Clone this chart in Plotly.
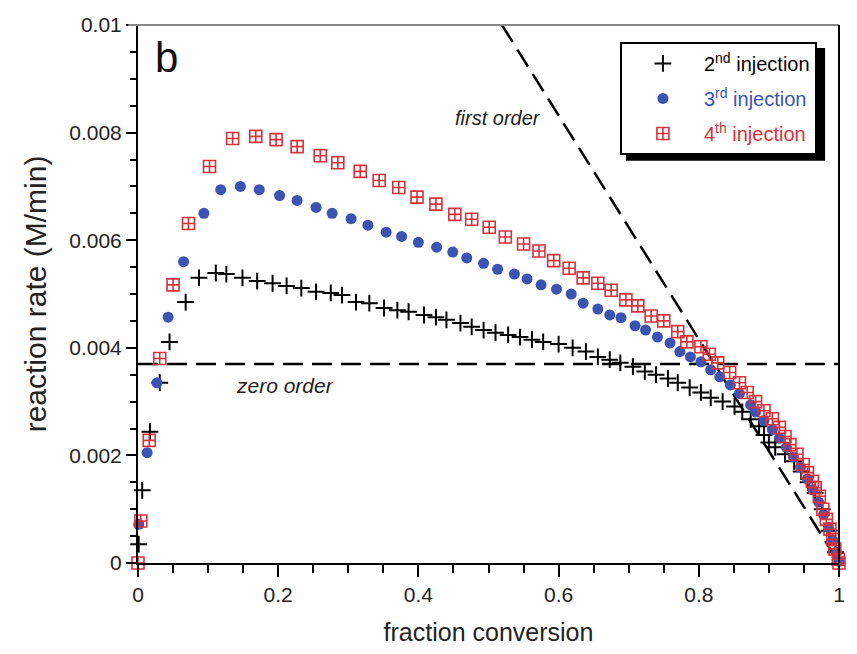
import plotly.graph_objects as go

# ---------------- data ----------------
x_2nd = [0.001, 0.006, 0.017, 0.031, 0.045, 0.068, 0.087, 0.111, 0.126, 0.149, 0.17, 0.192, 0.212,
         0.233, 0.254, 0.275, 0.291, 0.311, 0.33, 0.351, 0.37, 0.386, 0.408, 0.425, 0.44, 0.46,
         0.476, 0.493, 0.51, 0.528, 0.545, 0.562, 0.578, 0.6, 0.62, 0.639, 0.656, 0.673, 0.688,
         0.706, 0.723, 0.739, 0.756, 0.77, 0.787, 0.803, 0.817, 0.834, 0.851, 0.862, 0.874, 0.886,
         0.893, 0.9, 0.909, 0.923, 0.936, 0.946, 0.956, 0.966, 0.976, 0.986, 0.995]
y_2nd = [0.00035, 0.00135, 0.00244, 0.00335, 0.00411, 0.00485, 0.0053, 0.00539, 0.00537, 0.0053,
         0.00524, 0.0052, 0.00515, 0.00511, 0.00504, 0.00502, 0.00498, 0.00485, 0.00483, 0.00474,
         0.0047, 0.00467, 0.00461, 0.00457, 0.00452, 0.00446, 0.00439, 0.00433, 0.00428, 0.00424,
         0.0042, 0.00415, 0.00411, 0.00407, 0.004, 0.00393, 0.00383, 0.00378, 0.00372, 0.00365,
         0.00356, 0.0035, 0.00343, 0.00335, 0.00326, 0.00317, 0.00307, 0.003, 0.00291, 0.00281,
         0.00267, 0.00254, 0.00238, 0.00224, 0.00215, 0.00202, 0.00189, 0.0017, 0.0015, 0.0013,
         0.001, 0.0006, 0.0002]

x_3rd = [0.001, 0.013, 0.027, 0.043, 0.065, 0.094, 0.118, 0.146, 0.173, 0.202, 0.227, 0.254, 0.277,
         0.304, 0.328, 0.354, 0.376, 0.4, 0.426, 0.449, 0.469, 0.493, 0.513, 0.537, 0.555, 0.575,
         0.597, 0.618, 0.635, 0.656, 0.673, 0.689, 0.709, 0.724, 0.741, 0.759, 0.773, 0.788, 0.803,
         0.817, 0.83, 0.845, 0.858, 0.874, 0.881, 0.893, 0.905, 0.915, 0.925, 0.935, 0.945, 0.955,
         0.963, 0.971, 0.978, 0.985, 0.991, 0.996, 1.0]
y_3rd = [0.00072, 0.00205, 0.00335, 0.00457, 0.0056, 0.0065, 0.00694, 0.007, 0.00694, 0.00683,
         0.00674, 0.00661, 0.0065, 0.0064, 0.00628, 0.00615, 0.00607, 0.00596, 0.00587, 0.00578,
         0.00567, 0.00557, 0.00546, 0.00537, 0.00528, 0.00517, 0.00509, 0.005, 0.00483, 0.00472,
         0.00461, 0.00456, 0.00441, 0.00433, 0.0042, 0.00409, 0.00393, 0.00383, 0.00374, 0.00359,
         0.00346, 0.00331, 0.00315, 0.00294, 0.00281, 0.00265, 0.00248, 0.00232, 0.00215, 0.00197,
         0.00178, 0.00156, 0.00136, 0.00113, 0.0009, 0.00066, 0.00042, 0.0002, 0.00003]

x_4th = [0.0, 0.004, 0.016, 0.031, 0.05, 0.072, 0.102, 0.135, 0.168, 0.197, 0.227, 0.26, 0.285,
         0.317, 0.344, 0.372, 0.398, 0.425, 0.452, 0.476, 0.501, 0.524, 0.55, 0.572, 0.593, 0.615,
         0.635, 0.656, 0.675, 0.696, 0.713, 0.732, 0.75, 0.77, 0.783, 0.803, 0.815, 0.827, 0.844,
         0.858, 0.869, 0.881, 0.893, 0.905, 0.915, 0.923, 0.93, 0.94, 0.949, 0.955, 0.962, 0.966,
         0.972, 0.977, 0.982, 0.987, 0.991, 0.994, 0.999, 1.0]
y_4th = [0.0, 0.00078, 0.00228, 0.0038, 0.00517, 0.00631, 0.00737, 0.00789, 0.00793, 0.00787,
         0.00774, 0.00757, 0.00744, 0.00728, 0.00711, 0.00698, 0.0068, 0.00667, 0.00648, 0.00639,
         0.00624, 0.00606, 0.00593, 0.0058, 0.00562, 0.00548, 0.0053, 0.0052, 0.00507, 0.00489,
         0.00478, 0.00459, 0.0045, 0.0043, 0.00411, 0.00402, 0.00388, 0.00372, 0.00354, 0.00335,
         0.00317, 0.003, 0.00283, 0.00268, 0.00252, 0.00235, 0.0022, 0.00202, 0.00183, 0.00168,
         0.00152, 0.0014, 0.00124, 0.001, 0.00081, 0.00063, 0.00044, 0.00026, 0.00007, 0.0]

zero_order_rate = 0.0037      # M/min
first_order_k = 0.0208        # rate = k * (1 - conversion)

x_tick_vals = [0, 0.2, 0.4, 0.6, 0.8, 1.0]
x_tick_text = ["0", "0.2", "0.4", "0.6", "0.8", "1"]
y_tick_vals = [0, 0.002, 0.004, 0.006, 0.008, 0.01]
y_tick_text = ["0", "0.002", "0.004", "0.006", "0.008", "0.01"]

# ---------------- style ----------------
BLUE = "#3b54b4"
RED = "#d8323c"
FONT = "Liberation Sans, Arial, sans-serif"

fig = go.Figure()

# reference lines
fig.add_trace(go.Scatter(
    x=[0, 1], y=[zero_order_rate, zero_order_rate], mode="lines",
    line=dict(color="black", width=2.5, dash="20px,9px"), showlegend=False, hoverinfo="skip"))
x_fo_start = 1 - 0.0100 / first_order_k
fig.add_trace(go.Scatter(
    x=[x_fo_start, 1], y=[first_order_k * (1 - x_fo_start), 0.0], mode="lines",
    line=dict(color="black", width=2.5, dash="20px,9px"), showlegend=False, hoverinfo="skip"))

fig.add_trace(go.Scatter(
    x=x_2nd, y=y_2nd, mode="markers", name="2<sup>nd</sup> injection", legendgroup="a",
    marker=dict(symbol="cross-thin-open", size=12, color="black", line=dict(color="black", width=2)),
    cliponaxis=False))
fig.add_trace(go.Scatter(
    x=x_3rd, y=y_3rd, mode="markers",
    name='<span style="color:%s">3<sup>rd</sup> injection</span>' % BLUE, legendgroup="b",
    marker=dict(symbol="circle", size=11, color=BLUE, line=dict(width=0)),
    cliponaxis=False))
fig.add_trace(go.Scatter(
    x=x_4th, y=y_4th, mode="markers",
    name='<span style="color:%s">4<sup>th</sup> injection</span>' % RED, legendgroup="c",
    marker=dict(symbol="square-cross-open", size=12, color=RED, line=dict(color=RED, width=1.6)),
    cliponaxis=False))

# annotations
fig.add_annotation(x=0.041, y=0.0094, text="b", showarrow=False,
                   font=dict(family=FONT, size=42, color="#111"))
fig.add_annotation(x=0.514, y=0.00828, text="<i>first order</i>", showarrow=False,
                   font=dict(family=FONT, size=20, color="#222"))
fig.add_annotation(x=0.209, y=0.0033, text="<i>zero order</i>", showarrow=False,
                   font=dict(family=FONT, size=21, color="#222"))

# legend shadow and frame lines
fig.add_shape(type="rect", xref="paper", yref="paper",
              x0=(628 - 138) / 704, x1=(828 - 138) / 704,
              y0=(564 - 161) / 539, y1=(564 - 48) / 539,
              fillcolor="black", line=dict(width=0), layer="above")
fig.add_shape(type="line", xref="paper", yref="paper", x0=-0.014, x1=1, y0=1, y1=1,
              line=dict(color="#888", width=2))
fig.add_shape(type="line", xref="paper", yref="paper", x0=1, x1=1, y0=0, y1=1,
              line=dict(color="black", width=2))

fig.update_layout(
    width=857, height=654,
    margin=dict(l=138, r=15, t=25, b=90),
    paper_bgcolor="white", plot_bgcolor="white",
    font=dict(family=FONT, color="#222"),
    legend=dict(x=(622 - 138) / 704, y=(564 - 42) / 539, xanchor="left", yanchor="top",
                bgcolor="white", bordercolor="black", borderwidth=2,
                font=dict(family=FONT, size=20, color="black"),
                itemwidth=72, tracegroupgap=6),
)
fig.update_xaxes(
    range=[0, 1], showgrid=False, zeroline=False,
    showline=True, linecolor="black", linewidth=2,
    tickvals=x_tick_vals, ticktext=x_tick_text,
    ticks="outside", ticklen=12, tickwidth=1.5, tickcolor="black",
    tickfont=dict(family=FONT, size=21, color="#222"),
    minor=dict(dtick=0.05, tick0=0, ticks="outside", ticklen=8, tickwidth=1.5, tickcolor="black"),
    title=dict(text="fraction conversion", font=dict(family=FONT, size=25, color="#222"), standoff=18),
)
fig.update_yaxes(
    range=[0, 0.01], showgrid=False, zeroline=False,
    showline=True, linecolor="black", linewidth=2,
    tickvals=y_tick_vals, ticktext=y_tick_text,
    ticks="outside", ticklen=10, tickwidth=1.5, tickcolor="black",
    tickfont=dict(family=FONT, size=21, color="#222"),
    minor=dict(dtick=0.0005, tick0=0, ticks="outside", ticklen=6, tickwidth=1.5, tickcolor="black"),
    title=dict(text="reaction rate (M/min)", font=dict(family=FONT, size=30, color="#222"), standoff=14),
)

fig.write_html("out.html", config={"displayModeBar": False},
               post_script="document.body.style.margin='0';")
